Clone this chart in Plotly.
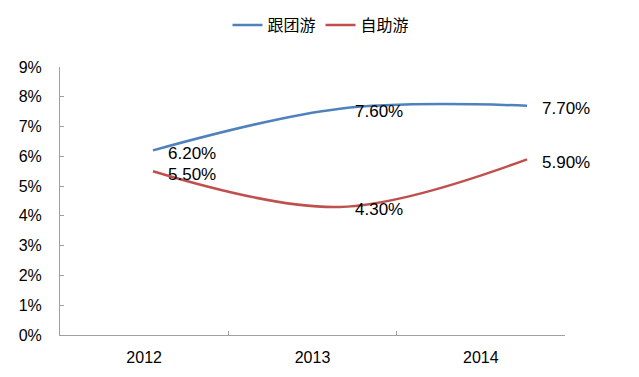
import plotly.graph_objects as go

years = ["2012", "2013", "2014"]
group_tour = [6.2, 7.6, 7.7]      # 跟团游
self_tour = [5.5, 4.3, 5.9]       # 自助游
y_ticks = [0, 1, 2, 3, 4, 5, 6, 7, 8, 9]
y_tick_text = [f"{v}%" for v in y_ticks]

BLUE = "#4F81BD"
RED = "#C0504D"
AXIS = "#A0A0A0"
FONT = "Liberation Sans, Arial, sans-serif"

W, H = 631, 369  # page body has an 8px offset inside the 639x377 window

fig = go.Figure()

# invisible trace to register categories on the labelled axis
fig.add_trace(go.Scatter(x=years, y=[None] * len(years), mode="lines",
                         showlegend=False, hoverinfo="skip", xaxis="x", yaxis="y"))

fig.add_trace(go.Scatter(x=years, y=group_tour, name="跟团游", mode="lines",
                         line=dict(color=BLUE, width=2.5, shape="spline", smoothing=1.0),
                         xaxis="x2", yaxis="y"))
fig.add_trace(go.Scatter(x=years, y=self_tour, name="自助游", mode="lines",
                         line=dict(color=RED, width=2.5, shape="spline", smoothing=1.0),
                         xaxis="x2", yaxis="y"))

annotations = []
for series in (group_tour, self_tour):
    for i, v in enumerate(series):
        annotations.append(dict(x=i, y=v, xref="x2", yref="y", text=f"{v:.2f}%",
                                showarrow=False, xanchor="left", yanchor="middle",
                                xshift=13, yshift=-3,
                                font=dict(family=FONT, size=17, color="#000000")))

fig.update_layout(
    width=W, height=H,
    margin=dict(l=52, r=74, t=59, b=42),
    paper_bgcolor="white", plot_bgcolor="white",
    font=dict(family=FONT, size=16, color="#000000"),
    showlegend=True,
    legend=dict(orientation="h", x=313 / W, xref="container", xanchor="center",
                y=1, yref="container", yanchor="top",
                font=dict(family="Noto Sans CJK SC", size=16, color="#000000"),
                itemwidth=30, tracegroupgap=0),
    xaxis=dict(type="category", categoryorder="array", categoryarray=years,
               range=[-0.5, 2.5], showgrid=False, zeroline=False,
               showline=True, linecolor=AXIS, linewidth=1,
               ticks="inside", ticklen=4, tickcolor=AXIS, tickson="boundaries",
               ticklabelstandoff=8,
               tickfont=dict(family=FONT, size=16, color="#000000")),
    xaxis2=dict(type="category", categoryorder="array", categoryarray=years,
                overlaying="x", range=[-0.497, 2.203], showgrid=False,
                zeroline=False, showline=False, ticks="", showticklabels=False),
    yaxis=dict(range=[0, 9], tickvals=y_ticks, ticktext=y_tick_text,
               showgrid=False, zeroline=False, showline=True, linecolor=AXIS,
               linewidth=1, ticks="inside", ticklen=4, tickcolor=AXIS,
               ticklabelstandoff=14,
               tickfont=dict(family=FONT, size=16, color="#000000")),
    annotations=annotations,
)

fig.write_html("out.html")
